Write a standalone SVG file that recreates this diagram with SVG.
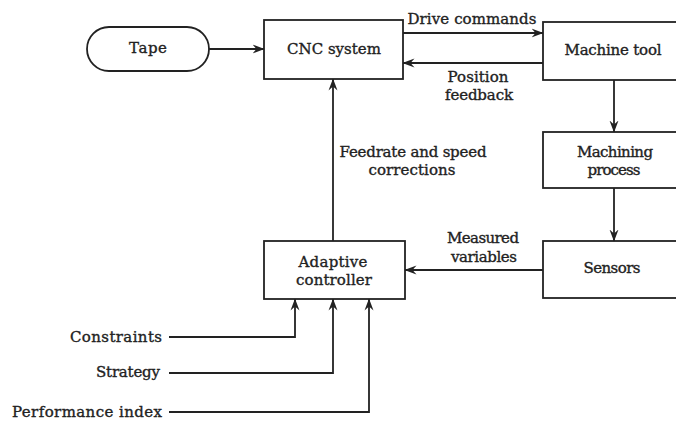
<svg xmlns="http://www.w3.org/2000/svg" width="676" height="425" viewBox="0 0 676 425">
<defs>
<marker id="arr" viewBox="0 0 12 10" refX="11.5" refY="5" markerWidth="12" markerHeight="10" markerUnits="userSpaceOnUse" orient="auto">
<path d="M0,0.5 L12,5 L0,9.5 L4,5 Z" fill="#222"/>
</marker>
</defs>
<style>
.box{fill:#fff;stroke:#222;stroke-width:1.8}
.ln{fill:none;stroke:#222;stroke-width:1.8}
.ar{fill:none;stroke:#222;stroke-width:1.8;marker-end:url(#arr)}
text{font-family:"DejaVu Serif","Liberation Serif",serif;font-size:15px;fill:#222;stroke:#222;stroke-width:0.35}
.c{text-anchor:middle}
.r{text-anchor:end}
</style>
<rect width="676" height="425" fill="#fff"/>
<g id="tape"><rect class="box" x="87" y="27" width="122" height="44" rx="22" ry="22"/><text class="c" x="148" y="53" textLength="38">Tape</text></g>
<g id="cnc"><rect class="box" x="264" y="20" width="139" height="59"/><text class="c" x="334" y="54" textLength="94">CNC system</text></g>
<g id="machine"><rect class="box" x="543" y="22" width="150" height="58"/><text class="c" x="613" y="55" textLength="97">Machine tool</text></g>
<g id="process"><rect class="box" x="543" y="132" width="150" height="56"/><text class="c" x="615" y="157" textLength="76">Machining</text><text class="c" x="614" y="175" textLength="53">process</text></g>
<g id="sensors"><rect class="box" x="543" y="241" width="150" height="57"/><text class="c" x="612" y="273" textLength="57">Sensors</text></g>
<g id="adaptive"><rect class="box" x="264" y="241" width="141" height="58"/><text class="c" x="333" y="267" textLength="69">Adaptive</text><text class="c" x="334" y="285" textLength="76">controller</text></g>
<g id="connectors">
<line class="ar" x1="209" y1="49" x2="264" y2="49"/>
<line class="ar" x1="403" y1="33" x2="543" y2="33"/>
<line class="ar" x1="543" y1="63" x2="403" y2="63"/>
<line class="ar" x1="614" y1="80" x2="614" y2="132"/>
<line class="ar" x1="614" y1="188" x2="614" y2="241"/>
<line class="ar" x1="543" y1="270" x2="405" y2="270"/>
<line class="ar" x1="333" y1="241" x2="333" y2="79"/>
<polyline class="ar" points="169,337 295,337 295,299"/>
<polyline class="ar" points="169,373 333,373 333,299"/>
<polyline class="ar" points="169,412 369,412 369,299"/>
</g>
<g id="labels">
<text class="c" x="472" y="24" textLength="129">Drive commands</text>
<text class="c" x="478" y="82" textLength="61">Position</text>
<text class="c" x="479" y="100" textLength="68">feedback</text>
<text class="c" x="413" y="157" textLength="147">Feedrate and speed</text>
<text class="c" x="412" y="175" textLength="87">corrections</text>
<text class="c" x="483" y="243" textLength="72">Measured</text>
<text class="c" x="484" y="262" textLength="66">variables</text>
<text class="r" x="162" y="342" textLength="92">Constraints</text>
<text class="r" x="160" y="377" textLength="64">Strategy</text>
<text x="12" y="417" textLength="150">Performance index</text>
</g>
</svg>
